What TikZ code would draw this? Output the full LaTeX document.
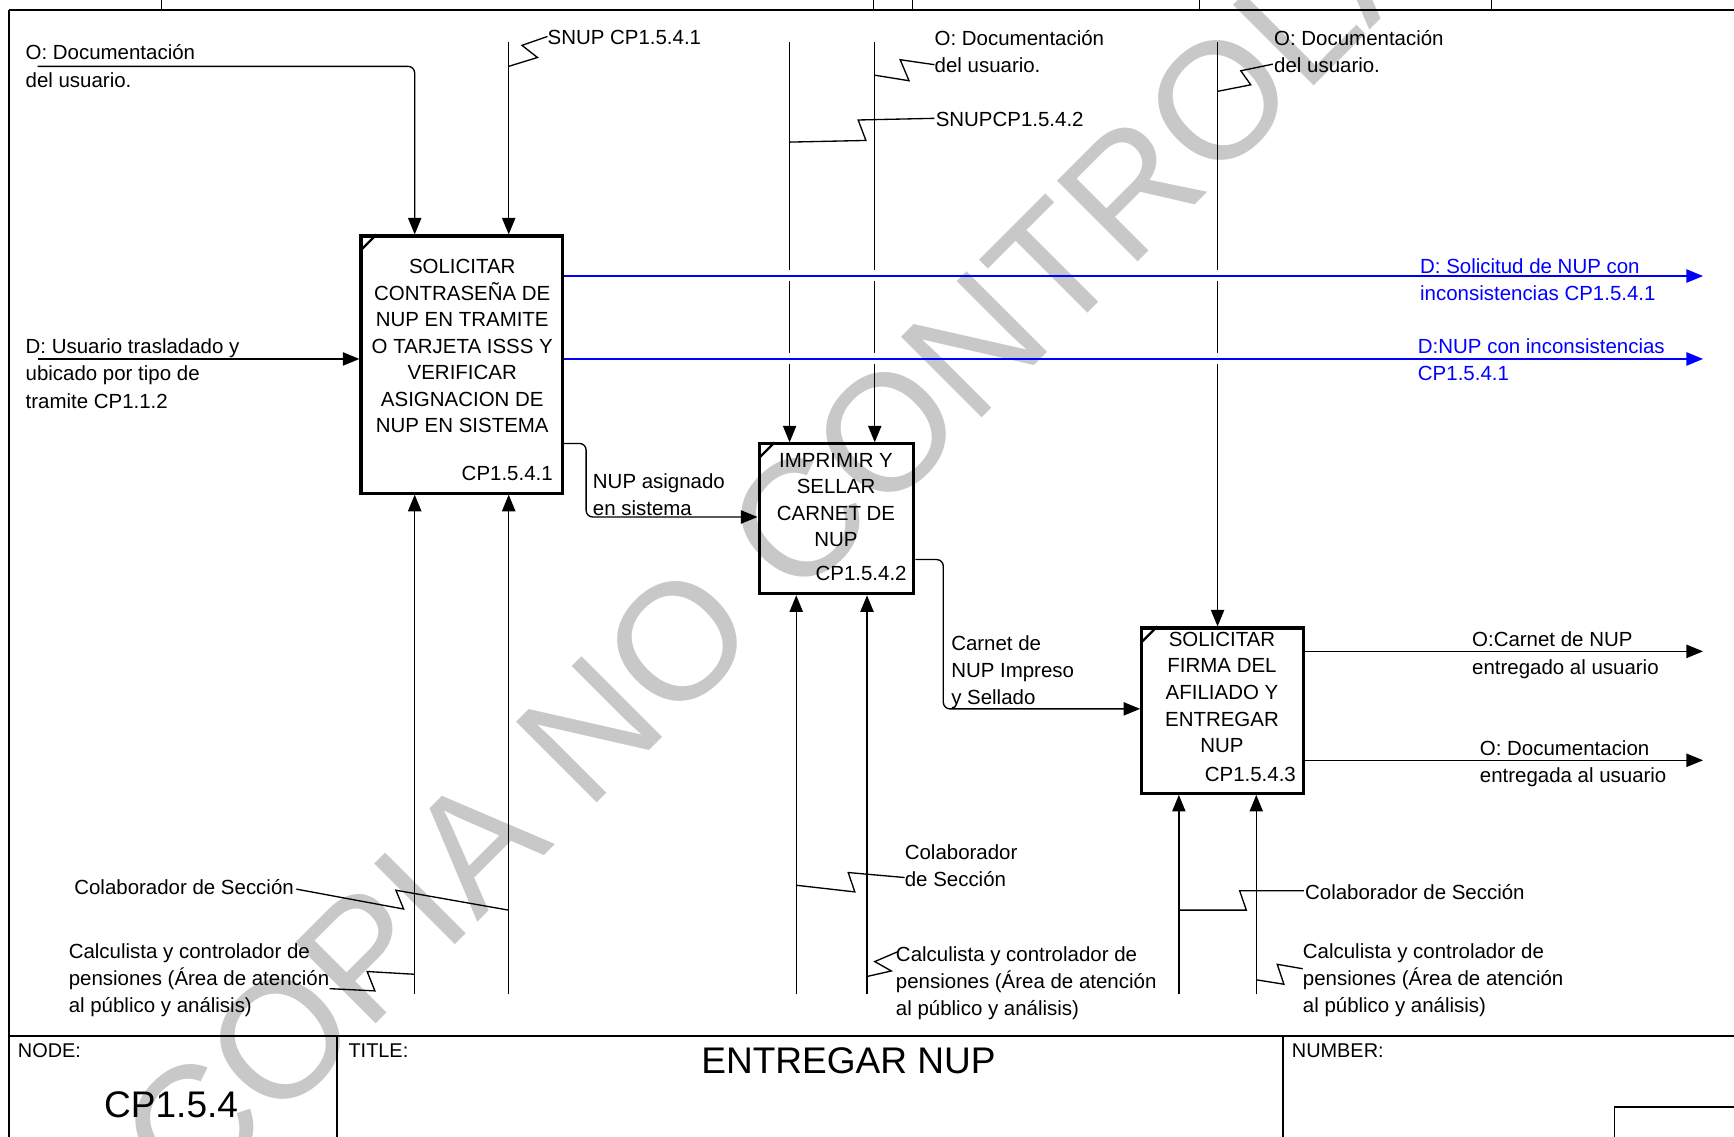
\documentclass[tikz,border=0pt]{standalone}
\usepackage{fontspec}
\setmainfont{Liberation Sans}
\usetikzlibrary{arrows.meta}
\definecolor{wmgray}{RGB}{200,200,200}
\definecolor{idefblue}{RGB}{0,0,255}
\newcommand\lblfont{\fontsize{18.5}{24.5}\selectfont}
\newcommand\boxfont{\fontsize{18.5}{24}\selectfont}
\newcommand\titfont{\fontsize{33.5}{40}\selectfont}
\newcommand\smallfnt{\fontsize{18}{22}\selectfont}
\newcommand\wmsize{\fontsize{150}{150}\selectfont}
\begin{document}
\begin{tikzpicture}[x=1pt,y=-1pt,
  ln/.style={line width=1.2pt, draw=black},
  arr/.style={ln, -{Triangle[length=15pt,width=12pt]}},
  barr/.style={line width=1.3pt, draw=idefblue, -{Triangle[length=15pt,width=12pt]}},
  actbox/.style={draw, line width=2.8pt, rectangle, inner sep=0pt, anchor=north west},
  lbl/.style={font=\lblfont, inner sep=0pt, align=left, anchor=north west},
  blbl/.style={lbl, text=idefblue},
  boxtxt/.style={font=\boxfont, inner sep=0pt, align=center, anchor=north},
  boxnum/.style={font=\boxfont, inner sep=0pt, anchor=north east},
  frm/.style={line width=2pt, draw=black},
  wm/.style={rotate=45, text=wmgray, inner sep=0pt, font=\wmsize}
]
\useasboundingbox (0,0) rectangle (1568,1028);

% watermark
\node[wm] (wm) at (778,415) {COPIA NO CONTROLADA};

% frame
\coordinate (fTL) at (8,9);
\coordinate (fTR) at (1568,9);
\coordinate (fBL) at (8,1028);
\draw[line width=2.2pt] (fTL) -- (fTR);
\draw[line width=1.5pt] (fTL) -- (fBL);
\foreach \tx in {146,790,825,1085,1349} {\draw[line width=1pt] (\tx,0) -- (\tx,9);}
\coordinate (tbL) at (8,936.5);
\coordinate (tbR) at (1568,936.5);
\draw[frm] (tbL) -- (tbR);
\coordinate (dv1t) at (305,936.5); \coordinate (dv1b) at (305,1028);
\coordinate (dv2t) at (1160,936.5); \coordinate (dv2b) at (1160,1028);
\draw[line width=1.5pt] (dv1t) -- (dv1b);
\draw[line width=1.5pt] (dv2t) -- (dv2b);
\draw[line width=1.5pt] (1460,1040) -- (1460,1001) -- (1580,1001);

\node[font=\smallfnt, inner sep=0pt, anchor=north west] (nodelbl) at (16,943.5) {NODE:};
\node[font=\smallfnt, inner sep=0pt, anchor=north west] (titlelbl) at (315,943.5) {TITLE:};
\node[font=\smallfnt, inner sep=0pt, anchor=north west] (numlbl) at (1168,943.5) {NUMBER:};
\node[font=\titfont, inner sep=0pt, anchor=north west] (nodeval) at (94,987) {CP1.5.4};
\node[font=\titfont, inner sep=0pt, anchor=north west] (titleval) at (634,947) {ENTREGAR NUP};

% activity boxes
\node[actbox, minimum width=182pt, minimum height=232.5pt] (b1) at (325,212) {};
\node[actbox, minimum width=140pt, minimum height=135.5pt] (b2) at (685,400) {};
\node[actbox, minimum width=146pt, minimum height=149.5pt] (b3) at (1031,566.5) {};
\draw[line width=2pt] (326,226.5) -- (340.5,212);
\draw[line width=2pt] (686,414.5) -- (700.5,400);
\draw[line width=2pt] (1032,581) -- (1046.5,566.5);

\node[boxtxt] (b1t) at (418,234.4) {SOLICITAR\\CONTRASEÑA DE\\NUP EN TRAMITE\\O TARJETA ISSS Y\\VERIFICAR\\ASIGNACION DE\\NUP EN SISTEMA};
\node[boxnum] (b1n) at (500,421.4) {CP1.5.4.1};
\node[boxtxt] (b2t) at (756,409.4) {IMPRIMIR Y\\SELLAR\\CARNET DE\\NUP};
\node[boxnum] (b2n) at (820,511.4) {CP1.5.4.2};
\node[boxtxt] (b3t) at (1105,571.4) {SOLICITAR\\FIRMA DEL\\AFILIADO Y\\ENTREGAR\\NUP};
\node[boxnum] (b3n) at (1172,693.4) {CP1.5.4.3};

% column coordinates
\coordinate (c1a) at (375,60);
\coordinate (c1b) at (460,38);
\coordinate (c2a) at (714,38);
\coordinate (c2b) at (791,38);
\coordinate (c3a) at (1101,38);
\coordinate (k1a) at (375,899);
\coordinate (k1b) at (460,899);
\coordinate (k2a) at (720,899);
\coordinate (k2b) at (784,899);
\coordinate (k3a) at (1066,899);
\coordinate (k3b) at (1136,899);

% inputs / controls from top
\coordinate (d1s) at (34,60);
\draw[arr, rounded corners=6pt] (d1s) -- (c1a) -- (c1a |- b1.north);
\draw[arr] (c1b) -- (c1b |- b1.north);
\draw[arr] (c2a) -- (714,244.5) (714,254.5) -- (714,319.5) (714,329.5) -- (c2a |- b2.north);
\draw[arr] (c2b) -- (791,244.5) (791,254.5) -- (791,319.5) (791,329.5) -- (c2b |- b2.north);
\draw[arr] (c3a) -- (1101,244.5) (1101,254.5) -- (1101,319.5) (1101,329.5) -- (c3a |- b3.north);

% input left
\coordinate (u1s) at (34,324.6);
\draw[arr] (u1s) -- (b1.west |- u1s);

% blue outputs
\coordinate (o1e) at (1540,249.6);
\coordinate (o2e) at (1540,324.6);
\draw[barr] (b1.east |- o1e) -- (o1e);
\draw[barr] (b1.east |- o2e) -- (o2e);

% box to box
\coordinate (nupA) at (530,401);
\coordinate (nupB) at (530,467.5);
\draw[arr, rounded corners=6pt] (b1.east |- nupA) -- (nupA) -- (nupB) -- (b2.west |- nupB);
\coordinate (carA) at (853,506);
\coordinate (carB) at (853,641);
\draw[arr, rounded corners=6pt] (b2.east |- carA) -- (carA) -- (carB) -- (b3.west |- carB);

% box3 outputs
\coordinate (o3e) at (1540,589);
\coordinate (o4e) at (1540,687.5);
\draw[arr] (b3.east |- o3e) -- (o3e);
\draw[arr] (b3.east |- o4e) -- (o4e);

% mechanisms
\draw[arr] (k1a) -- (k1a |- b1.south);
\draw[arr] (k1b) -- (k1b |- b1.south);
\draw[arr] (k2a) -- (k2a |- b2.south);
\draw[arr] (k2b) -- (k2b |- b2.south);
\draw[arr] (k3a) -- (k3a |- b3.south);
\draw[arr] (k3b) -- (k3b |- b3.south);

% labels
\node[lbl] (l_doc1) at (23,40.4) {O: Documentación\\del usuario.};
\node[lbl] (l_snup1) at (495,27.4) {SNUP CP1.5.4.1};
\node[lbl] (l_doc2) at (845,27.4) {O: Documentación\\del usuario.};
\node[lbl] (l_snup2) at (846,101.4) {SNUPCP1.5.4.2};
\node[lbl] (l_doc3) at (1152,27.4) {O: Documentación\\del usuario.};
\node[lbl] (l_usr) at (23,306.4) {D: Usuario trasladado y\\ubicado por tipo de\\tramite CP1.1.2};
\node[blbl] (l_out1) at (1284,233.4) {D: Solicitud de NUP con\\inconsistencias CP1.5.4.1};
\node[blbl] (l_out2) at (1282,306.4) {D:NUP con inconsistencias\\CP1.5.4.1};
\node[lbl] (l_nup) at (536,428.4) {NUP asignado\\en sistema};
\node[lbl] (l_car) at (860,574.4) {Carnet de\\NUP Impreso\\y Sellado};
\node[lbl] (l_out3) at (1331,571.4) {O:Carnet de NUP\\entregado al usuario};
\node[lbl] (l_out4) at (1338,669.4) {O: Documentacion\\entregada al usuario};
\node[lbl] (l_col1) at (67,795.4) {Colaborador de Sección};
\node[lbl] (l_cal1) at (62,853.4) {Calculista y controlador de\\pensiones (Área de atención\\al público y análisis)};
\node[lbl] (l_col2) at (818,763.4) {Colaborador\\de Sección};
\node[lbl] (l_cal2) at (810,855.4) {Calculista y controlador de\\pensiones (Área de atención\\al público y análisis)};
\node[lbl] (l_col3) at (1180,799.4) {Colaborador de Sección};
\node[lbl] (l_cal3) at (1178,853.4) {Calculista y controlador de\\pensiones (Área de atención\\al público y análisis)};

% squiggles
\coordinate (s1a) at (460,60); \coordinate (s1b) at (495,33);
\draw[ln] (s1a) -- (486,52) -- (472,41) -- (s1b);
\coordinate (s2a) at (791,68); \coordinate (s2b) at (845,58.5);
\draw[ln] (s2a) -- (822,73) -- (814,54) -- (s2b);
\coordinate (s3a) at (714,128.5); \coordinate (s3b) at (845,107);
\draw[ln] (s3a) -- (783,127) -- (776,108.5) -- (s3b);
\coordinate (s4a) at (1101,82.6); \coordinate (s4b) at (1151,58);
\draw[ln] (s4a) -- (1131,76.7) -- (1122,64) -- (s4b);
\coordinate (s5a) at (268,804); \coordinate (s5b) at (460,823);
\draw[ln] (s5a) -- (365,822) -- (358,805) -- (s5b);
\coordinate (s6a) at (375,881); \coordinate (s6b) at (298,894);
\draw[ln] (s6a) -- (332,878.5) -- (339,896) -- (s6b);
\coordinate (s7a) at (720,800.5); \coordinate (s7b) at (818,793.5);
\draw[ln] (s7a) -- (773,806.5) -- (767,789) -- (s7b);
\coordinate (s8a) at (784,883); \coordinate (s8b) at (812,860.5);
\draw[ln] (s8a) -- (806,878) -- (791,869.5) -- (s8b);
\coordinate (s9a) at (1066,823); \coordinate (s9b) at (1179,805.5);
\draw[ln] (s9a) -- (1127,823) -- (1121,805.5) -- (s9b);
\coordinate (s10a) at (1136,886); \coordinate (s10b) at (1178,876);
\draw[ln] (s10a) -- (1161,890) -- (1155,872) -- (s10b);
\end{tikzpicture}
\end{document}
